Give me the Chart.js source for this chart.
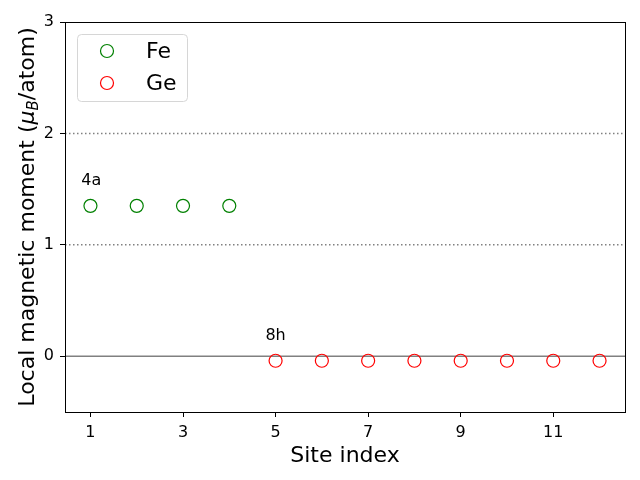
<!DOCTYPE html>
<html>
<head>
<meta charset="utf-8">
<script src="https://cdn.jsdelivr.net/npm/chart.js"></script>
<style>
  html, body { margin: 0; padding: 0; background: #fff; }
  #wrap { width: 640px; height: 480px; }
</style>
</head>
<body>
<div id="wrap"><canvas id="chart" width="640" height="480"></canvas></div>
<script>
const feSites = [1, 2, 3, 4];
const feMoments = [1.35, 1.35, 1.35, 1.35];
const geSites = [5, 6, 7, 8, 9, 10, 11, 12];
const geMoments = [-0.04, -0.04, -0.04, -0.04, -0.04, -0.04, -0.04, -0.04];
const xTicks = [1, 3, 5, 7, 9, 11];
const yTicks = [0, 1, 2, 3];
const dottedLines = [1, 2];
const labels = [
  { text: '4a', x: 0.8, y: 1.54 },
  { text: '8h', x: 4.78, y: 0.15 }
];

const FONT = "'DejaVu Sans', sans-serif";

const extras = {
  id: 'extras',
  beforeDatasetsDraw(chart) {
    const { ctx, chartArea: a, scales: { y } } = chart;
    ctx.save();
    ctx.lineWidth = 1.5;
    ctx.strokeStyle = '#808080';
    ctx.setLineDash([1.5, 2.5]);
    dottedLines.forEach(v => {
      const py = y.getPixelForValue(v);
      ctx.beginPath(); ctx.moveTo(a.left, py); ctx.lineTo(a.right, py); ctx.stroke();
    });
    ctx.setLineDash([]);
    const p0 = y.getPixelForValue(0);
    ctx.beginPath(); ctx.moveTo(a.left, p0); ctx.lineTo(a.right, p0); ctx.stroke();
    ctx.restore();
  },
  afterDraw(chart) {
    const { ctx, chartArea: a, scales: { x, y } } = chart;
    ctx.save();
    // frame
    ctx.strokeStyle = '#000';
    ctx.lineWidth = 1;
    ctx.strokeRect(Math.round(a.left) + 0.5, Math.round(a.top) + 0.5,
      Math.round(a.right - a.left), Math.round(a.bottom - a.top));

    // site labels
    ctx.fillStyle = '#000';
    ctx.font = '16px ' + FONT;
    ctx.textAlign = 'left';
    ctx.textBaseline = 'alphabetic';
    labels.forEach(l => ctx.fillText(l.text, x.getPixelForValue(l.x), y.getPixelForValue(l.y)));

    // legend
    const lx = 77, ly = 34, lw = 110, lh = 67;
    ctx.fillStyle = 'rgba(255,255,255,0.8)';
    ctx.strokeStyle = '#d6d6d6';
    ctx.beginPath();
    ctx.roundRect(lx + 0.5, ly + 0.5, lw, lh, 4);
    ctx.fill(); ctx.stroke();
    const items = [['Fe', '#008000'], ['Ge', '#ff0000']];
    ctx.font = '22px ' + FONT;
    ctx.textBaseline = 'middle';
    items.forEach((it, i) => {
      const cy = 51 + i * 32;
      ctx.strokeStyle = it[1];
      ctx.lineWidth = 1.2;
      ctx.beginPath(); ctx.arc(107, cy, 6.5, 0, Math.PI * 2); ctx.stroke();
      ctx.fillStyle = '#000';
      ctx.fillText(it[0], 146, cy + 1);
    });

    // x title
    ctx.textAlign = 'center';
    ctx.textBaseline = 'alphabetic';
    ctx.font = '22px ' + FONT;
    ctx.fillText('Site index', (a.left + a.right) / 2, 462);

    // y title with subscript
    ctx.translate(34, (a.top + a.bottom) / 2);
    ctx.rotate(-Math.PI / 2);
    const parts = [
      { t: 'Local magnetic moment (', f: '22px ' + FONT, dy: 0 },
      { t: 'μ', f: 'italic 22px ' + FONT, dy: 0 },
      { t: 'B', f: 'italic 15px ' + FONT, dy: 4 },
      { t: '/atom)', f: '22px ' + FONT, dy: 0 }
    ];
    let total = 0;
    parts.forEach(p => { ctx.font = p.f; p.w = ctx.measureText(p.t).width; total += p.w; });
    let cx = -total / 2;
    ctx.textAlign = 'left';
    parts.forEach(p => { ctx.font = p.f; ctx.fillText(p.t, cx, p.dy); cx += p.w; });
    ctx.restore();
  }
};

new Chart(document.getElementById('chart'), {
  type: 'scatter',
  data: {
    datasets: [
      {
        label: 'Fe',
        data: feSites.map((s, i) => ({ x: s, y: feMoments[i] })),
        borderColor: '#008000',
        backgroundColor: 'rgba(0,0,0,0)',
        pointRadius: 6.5,
        pointBorderWidth: 1.2
      },
      {
        label: 'Ge',
        data: geSites.map((s, i) => ({ x: s, y: geMoments[i] })),
        borderColor: '#ff0000',
        backgroundColor: 'rgba(0,0,0,0)',
        pointRadius: 6.5,
        pointBorderWidth: 1.2
      }
    ]
  },
  options: {
    responsive: false,
    animation: false,
    layout: { padding: { left: 0, right: 15, top: 22, bottom: 0 } },
    plugins: { legend: { display: false }, tooltip: { enabled: false } },
    scales: {
      x: {
        type: 'linear',
        min: 0.45,
        max: 12.55,
        afterBuildTicks: s => { s.ticks = xTicks.map(v => ({ value: v })); },
        afterFit: s => { s.height = 68; },
        grid: { drawOnChartArea: false, drawTicks: true, tickLength: 5, color: '#000' },
        border: { color: '#000' },
        ticks: { color: '#000', font: { family: FONT, size: 16 }, padding: 6, maxRotation: 0 }
      },
      y: {
        min: -0.5,
        max: 3,
        afterBuildTicks: s => { s.ticks = yTicks.map(v => ({ value: v })); },
        afterFit: s => { s.width = 65; },
        grid: { drawOnChartArea: false, drawTicks: true, tickLength: 5, color: '#000' },
        border: { color: '#000' },
        ticks: { color: '#000', font: { family: FONT, size: 16 }, padding: 6 }
      }
    }
  },
  plugins: [extras]
});
</script>
</body>
</html>
